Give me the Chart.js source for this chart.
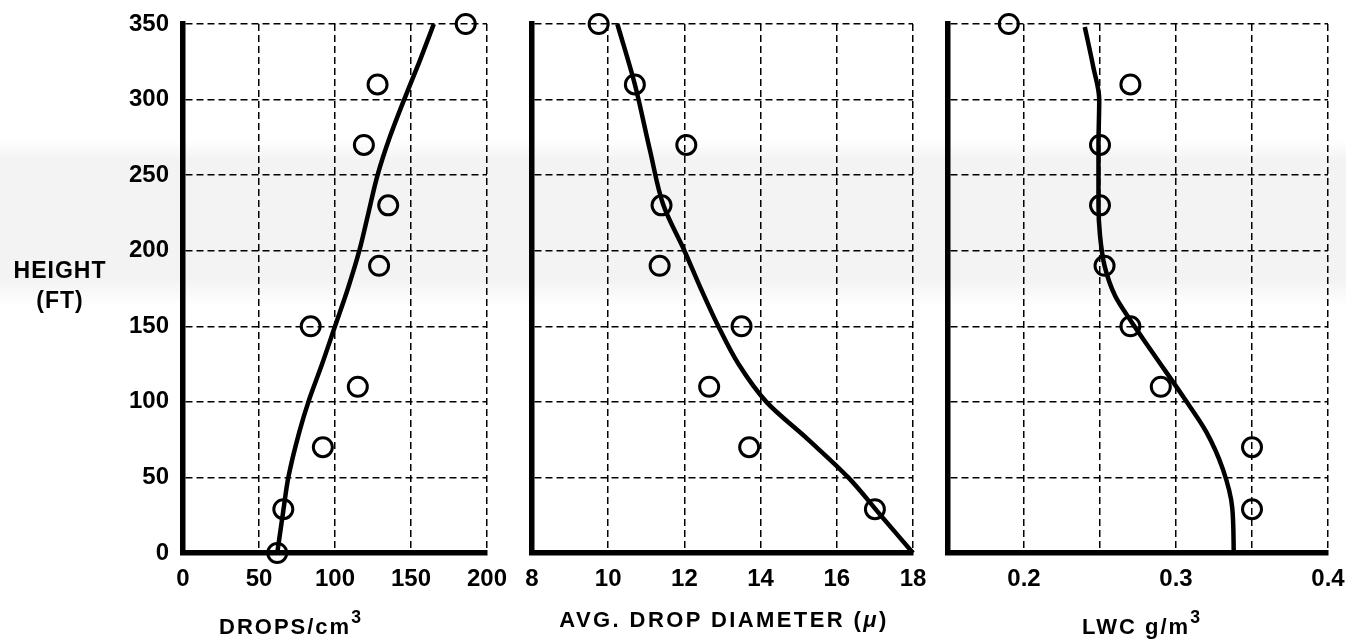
<!DOCTYPE html>
<html>
<head>
<meta charset="utf-8">
<script src="https://cdn.jsdelivr.net/npm/chart.js@4.4.1/dist/chart.umd.min.js"></script>
<style>
  body { margin: 0; width: 1346px; height: 641px; position: relative; overflow: hidden;
         font-family: "Liberation Sans", Arial, sans-serif; color: #000;
         background: linear-gradient(to bottom, #fff 0px, #fff 140px, #f3f3f3 160px, #f3f3f3 280px, #fff 305px, #fff 641px); }
  canvas { position: absolute; top: 0; }
  .lbl { position: absolute; font-weight: bold; white-space: nowrap; transform: translateX(-50%); }
  .lbl sup { font-size: 0.8em; position: relative; top: -0.15em; }
  .ttl { font-size: 22px; letter-spacing: 2.4px; line-height: 24px; }
</style>
</head>
<body>
<canvas id="c1" width="520" height="641" style="left:0px"></canvas>
<canvas id="c2" width="440" height="641" style="left:500px"></canvas>
<canvas id="c3" width="426" height="641" style="left:920px"></canvas>

<div class="lbl" style="left:60px;top:255px;font-size:23px;line-height:30px;text-align:center;letter-spacing:1px">HEIGHT<br>(FT)</div>
<div class="lbl ttl" style="left:291px;top:608px;letter-spacing:2px">DROPS/cm<sup>3</sup></div>
<div class="lbl ttl" style="left:724px;top:608px">AVG. DROP DIAMETER (<i>μ</i>)</div>
<div class="lbl ttl" style="left:1142px;top:608px;letter-spacing:2px">LWC g/m<sup>3</sup></div>

<script>
// heights of the measured points (ft)
const heights = [0, 29, 70, 110, 150, 190, 230, 270, 310, 350];
const heightsUpper = [29, 70, 110, 150, 190, 230, 270, 310, 350];

// measured values
const drops = [62, 66, 92, 115, 84, 129, 135, 119, 128, 186];
const diameter = [17.0, 13.7, 12.65, 13.5, 11.35, 11.4, 12.05, 10.7, 9.75];
const lwc = [0.35, 0.35, 0.29, 0.27, 0.253, 0.25, 0.25, 0.27, 0.19];

// hand drawn fit curves
const dropsFitH = [0, 28, 50, 80, 100, 125, 150, 175, 200, 225, 250, 275, 300, 325, 350];
const dropsFitX = [62, 66, 69.3, 76.5, 82.5, 91.5, 100, 108.5, 116, 122, 128, 136, 145.5, 155.5, 165];

const diamFitH = [0, 25, 50, 75, 100, 125, 150, 175, 200, 230, 266, 310, 350];
const diamFitX = [18.0, 17.15, 16.3, 15.25, 14.15, 13.42, 12.89, 12.43, 12.0, 11.45, 11.1, 10.7, 10.24];

const lwcFitH = [0, 30, 55, 80, 103, 132, 154, 170, 190, 210, 230, 270, 300, 322, 348];
const lwcFitX = [0.338, 0.337, 0.331, 0.320, 0.305, 0.285, 0.270, 0.260, 0.253, 0.250, 0.249, 0.249, 0.2495, 0.2455, 0.240];

const tickFont = { family: 'Liberation Sans', weight: 'bold', size: 24 };

const toXY = (xs, ys) => xs.map((x, i) => ({ x: x, y: ys[i] }));

function makePanel(id, opts) {
  return new Chart(document.getElementById(id), {
    type: 'line',
    data: {
      datasets: [
        {
          // fit curve, smoothed along the height axis
          data: toXY(opts.fitX, opts.fitH),
          cubicInterpolationMode: 'monotone',
          borderColor: '#000',
          borderWidth: 4.5,
          pointRadius: 0,
          clip: false,
        },
        {
          data: toXY(opts.values, opts.heights),
          showLine: false,
          pointRadius: 9.5,
          pointBorderWidth: 3,
          pointBorderColor: '#000',
          pointBackgroundColor: 'rgba(0,0,0,0)',
          clip: false,
        },
      ],
    },
    options: {
      indexAxis: 'y',
      responsive: false,
      animation: false,
      layout: { padding: { top: 24, right: opts.padRight, left: 0, bottom: 0 } },
      plugins: { legend: { display: false }, tooltip: { enabled: false } },
      scales: {
        x: {
          type: 'linear',
          min: opts.min,
          max: opts.max,
          ticks: {
            stepSize: opts.step,
            color: '#000',
            font: tickFont,
            padding: 12,
            maxRotation: 0,
            autoSkip: false,
            callback: opts.xLabel,
          },
          grid: { color: '#000', lineWidth: 1.5, drawTicks: false },
          border: { display: true, color: '#000', width: 5.5, dash: [7, 4] },
          afterFit: (s) => { s.height = 88; s.paddingLeft = 0; s.paddingRight = 0; },
        },
        y: {
          type: 'linear',
          min: 0,
          max: 350,
          ticks: { stepSize: 50, display: opts.showY, color: '#000', font: tickFont, padding: 14 },
          grid: { color: '#000', lineWidth: 1.5, drawTicks: false },
          border: { display: true, color: '#000', width: 5.5, dash: [7, 4] },
          afterFit: (s) => { s.width = opts.yWidth; s.paddingTop = 0; s.paddingBottom = 0; },
        },
      },
    },
  });
}

makePanel('c1', {
  values: drops, heights: heights, fitX: dropsFitX, fitH: dropsFitH,
  min: 0, max: 200, step: 50, yWidth: 183, padRight: 33, showY: true,
  xLabel: (v) => v,
});

makePanel('c2', {
  values: diameter, heights: heightsUpper, fitX: diamFitX, fitH: diamFitH,
  min: 8, max: 18, step: 2, yWidth: 32, padRight: 27, showY: false,
  xLabel: (v) => v,
});

makePanel('c3', {
  values: lwc, heights: heightsUpper, fitX: lwcFitX, fitH: lwcFitH,
  min: 0.15, max: 0.4, step: 0.05, yWidth: 28, padRight: 18, showY: false,
  // only the tenths carry a label
  xLabel: (v) => (v > 0.16 && Math.abs(v * 10 - Math.round(v * 10)) < 1e-6 ? v.toFixed(1) : ''),
});
</script>
</body>
</html>
